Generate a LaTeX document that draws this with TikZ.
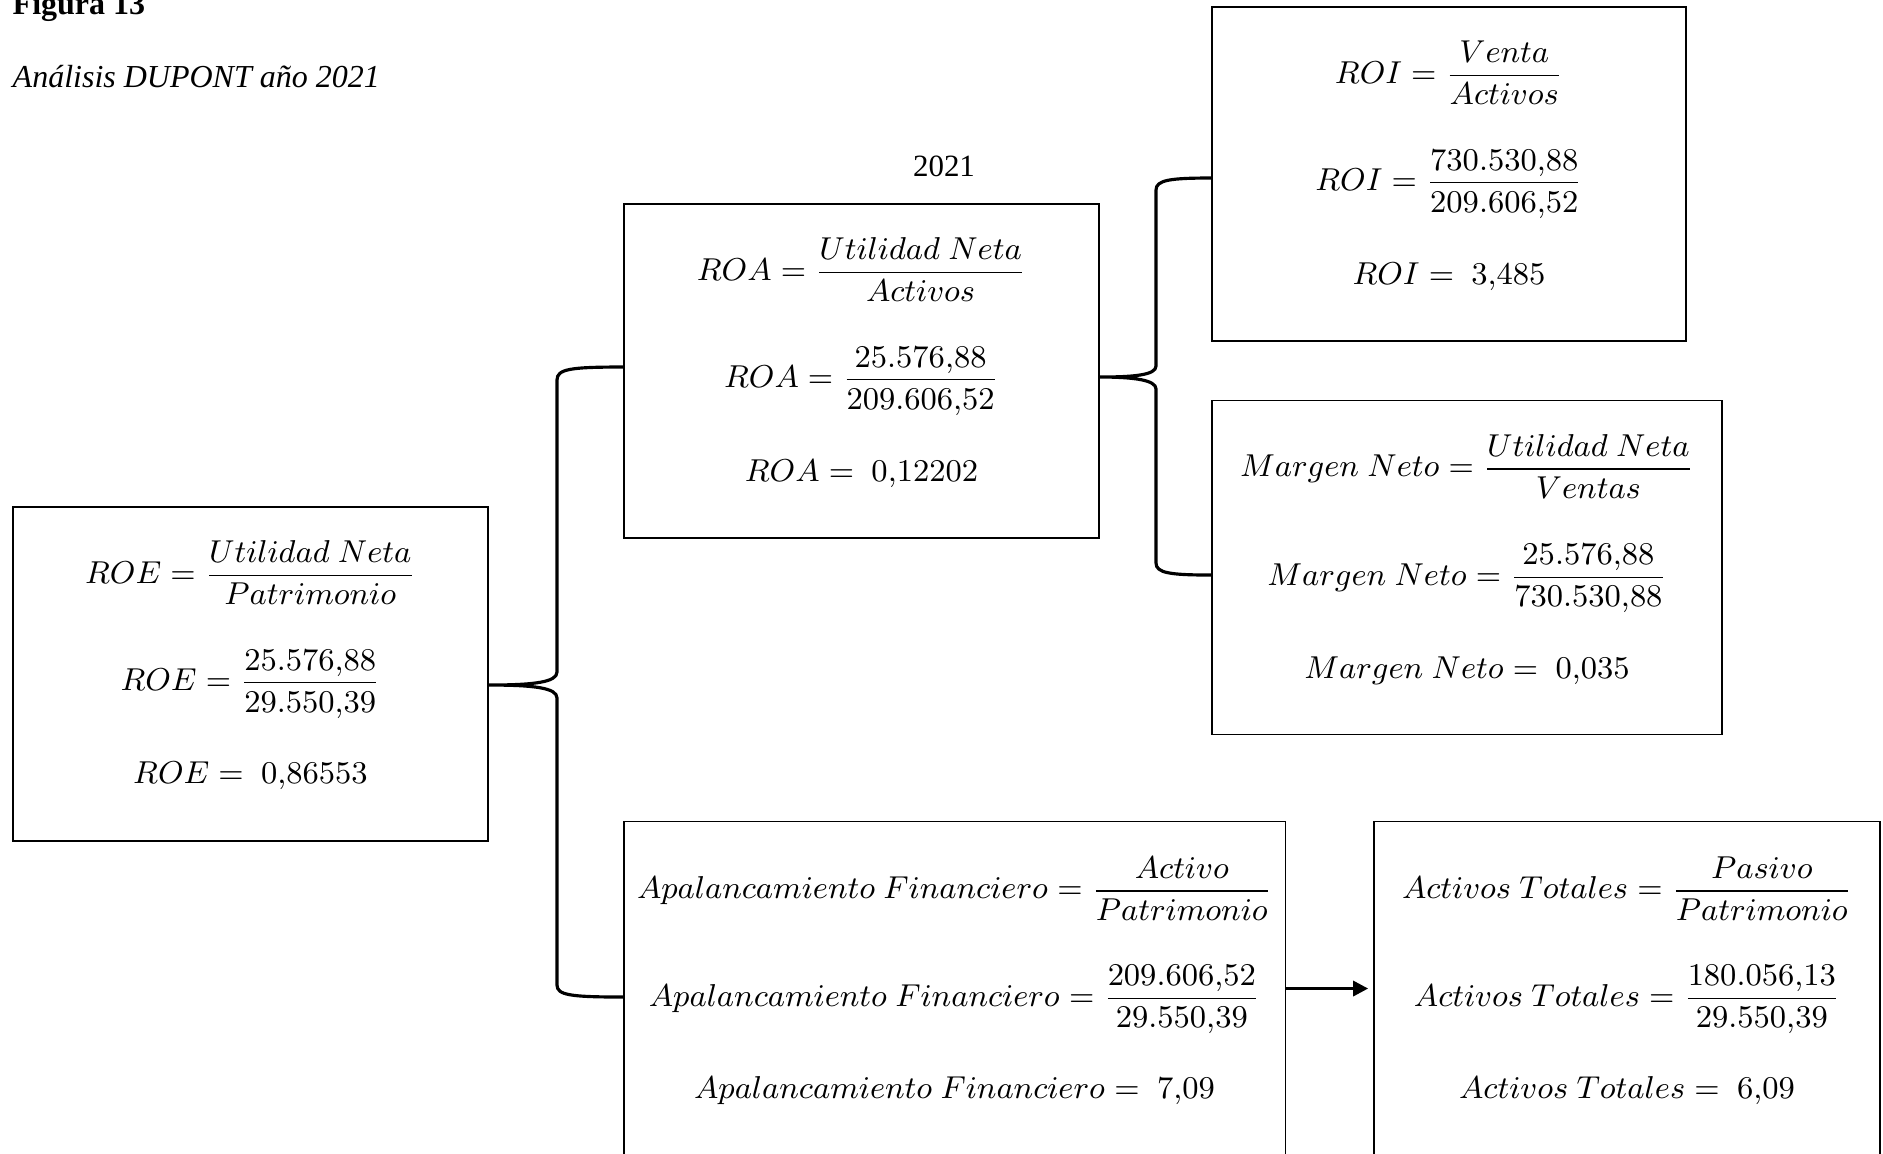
\documentclass[tikz,border=0pt]{standalone}
\usepackage{amsmath}
\usepackage{fontspec}
\setmainfont{Liberation Serif}
\usetikzlibrary{arrows.meta}

\begin{document}
\begin{tikzpicture}[x=0.01cm,y=-0.01cm,
        caja/.style = {draw,line width=0.4pt,inner sep=0pt,minimum height=3.34cm},
        formula/.style = {inner sep=0pt,font=\fontsize{9.5}{11}\selectfont},
        llave/.style = {line width=0.9pt},
        flecha/.style = {line width=0.9pt,-{Triangle[length=4.3pt,width=4.3pt]}}]
            \useasboundingbox (0,0) rectangle (1883,1153);
            \clip (0,0) rectangle (1883,1153);

            % titulos
            \node[anchor=base west,inner sep=0pt,font=\fontsize{9.1}{11}\selectfont\bfseries] (fig) at (12,14) {Figura 13};
            \node[anchor=base west,inner sep=0pt,font=\fontsize{9.1}{11}\selectfont\itshape] (tit) at (12,87) {Análisis DUPONT año 2021};
            \node[anchor=base,inner sep=0pt,font=\fontsize{8.8}{11}\selectfont] (anio) at (944,176) {2021};

            % cajas
            \node[caja,minimum width=4.75cm] (roe)  at (250.5,674)  {};
            \node[caja,minimum width=4.75cm] (roa)  at (861.5,371)  {};
            \node[caja,minimum width=4.74cm] (roi)  at (1449,174)   {};
            \node[caja,minimum width=5.10cm] (mar)  at (1467,567.5) {};
            \node[caja,minimum width=6.61cm] (apal) at (954.5,988.5) {};
            \node[caja,minimum width=5.06cm] (act)  at (1627,988.5) {};

            % ROE
            \node[formula] (roe1) at ([yshift=1.01cm]roe.center)  {$\displaystyle ROE = \frac{Utilidad\ Neta}{Patrimonio}$};
            \node[formula] (roe2) at ([yshift=-0.10cm]roe.center) {$\displaystyle ROE = \frac{25.576{,}88}{29.550{,}39}$};
            \node[formula] (roe3) at ([yshift=-1.02cm]roe.center) {$ROE = \ 0{,}86553$};

            % ROA
            \node[formula] (roa1) at ([yshift=1.01cm]roa.center)  {$\displaystyle ROA = \frac{Utilidad\ Neta}{Activos}$};
            \node[formula] (roa2) at ([yshift=-0.10cm]roa.center) {$\displaystyle ROA = \frac{25.576{,}88}{209.606{,}52}$};
            \node[formula] (roa3) at ([yshift=-1.03cm]roa.center) {$ROA = \ 0{,}12202$};

            % ROI
            \node[formula] (roi1) at ([yshift=1.01cm]roi.center)  {$\displaystyle ROI = \frac{Venta}{Activos}$};
            \node[formula] (roi2) at ([yshift=-0.10cm]roi.center) {$\displaystyle ROI = \frac{730.530{,}88}{209.606{,}52}$};
            \node[formula] (roi3) at ([yshift=-1.03cm]roi.center) {$ROI = \ 3{,}485$};

            % Margen neto
            \node[formula] (mar1) at ([yshift=1.01cm]mar.center)  {$\displaystyle Margen\ Neto = \frac{Utilidad\ Neta}{Ventas}$};
            \node[formula] (mar2) at ([yshift=-0.11cm]mar.center) {$\displaystyle Margen\ Neto = \frac{25.576{,}88}{730.530{,}88}$};
            \node[formula] (mar3) at ([yshift=-1.03cm]mar.center) {$Margen\ Neto = \ 0{,}035$};

            % Apalancamiento
            \node[formula] (apal1) at ([yshift=1.00cm]apal.center)  {$\displaystyle Apalancamiento\ Financiero = \frac{Activo}{Patrimonio}$};
            \node[formula] (apal2) at ([yshift=-0.11cm]apal.center) {$\displaystyle Apalancamiento\ Financiero = \frac{209.606{,}52}{29.550{,}39}$};
            \node[formula] (apal3) at ([yshift=-1.02cm]apal.center) {$Apalancamiento\ Financiero = \ 7{,}09$};

            % Activos totales
            \node[formula] (act1) at ([yshift=1.00cm]act.center)  {$\displaystyle Activos\ Totales = \frac{Pasivo}{Patrimonio}$};
            \node[formula] (act2) at ([yshift=-0.11cm]act.center) {$\displaystyle Activos\ Totales = \frac{180.056{,}13}{29.550{,}39}$};
            \node[formula] (act3) at ([yshift=-1.02cm]act.center) {$Activos\ Totales = \ 6{,}09$};

            % llaves
            \coordinate (b1a) at ([yshift=0.04cm]roa.west);
            \coordinate (b1b) at ([yshift=-0.11cm]roe.east);
            \coordinate (b1c) at ([yshift=-0.085cm]apal.west);
            \draw[llave] (b1a) .. controls (570,367) and (557,369) .. (557,380) -- (557,672)
                .. controls (557,682) and (535,685) .. (b1b)
                .. controls (535,685) and (557,688) .. (557,698) -- (557,985)
                .. controls (557,995) and (570,997) .. (b1c);

            \coordinate (b2a) at ([yshift=-0.04cm]roi.west);
            \coordinate (b2b) at ([yshift=-0.06cm]roa.east);
            \coordinate (b2c) at ([yshift=-0.075cm]mar.west);
            \draw[llave] (b2a) .. controls (1170,178) and (1156,180) .. (1156,190) -- (1156,366)
                .. controls (1156,375) and (1134,377) .. (b2b)
                .. controls (1134,377) and (1156,380) .. (1156,389) -- (1156,563)
                .. controls (1156,573) and (1170,575) .. (b2c);

            \draw[flecha] (apal.east) -- ([xshift=-0.05cm]act.west);
        \end{tikzpicture}
\end{document}
